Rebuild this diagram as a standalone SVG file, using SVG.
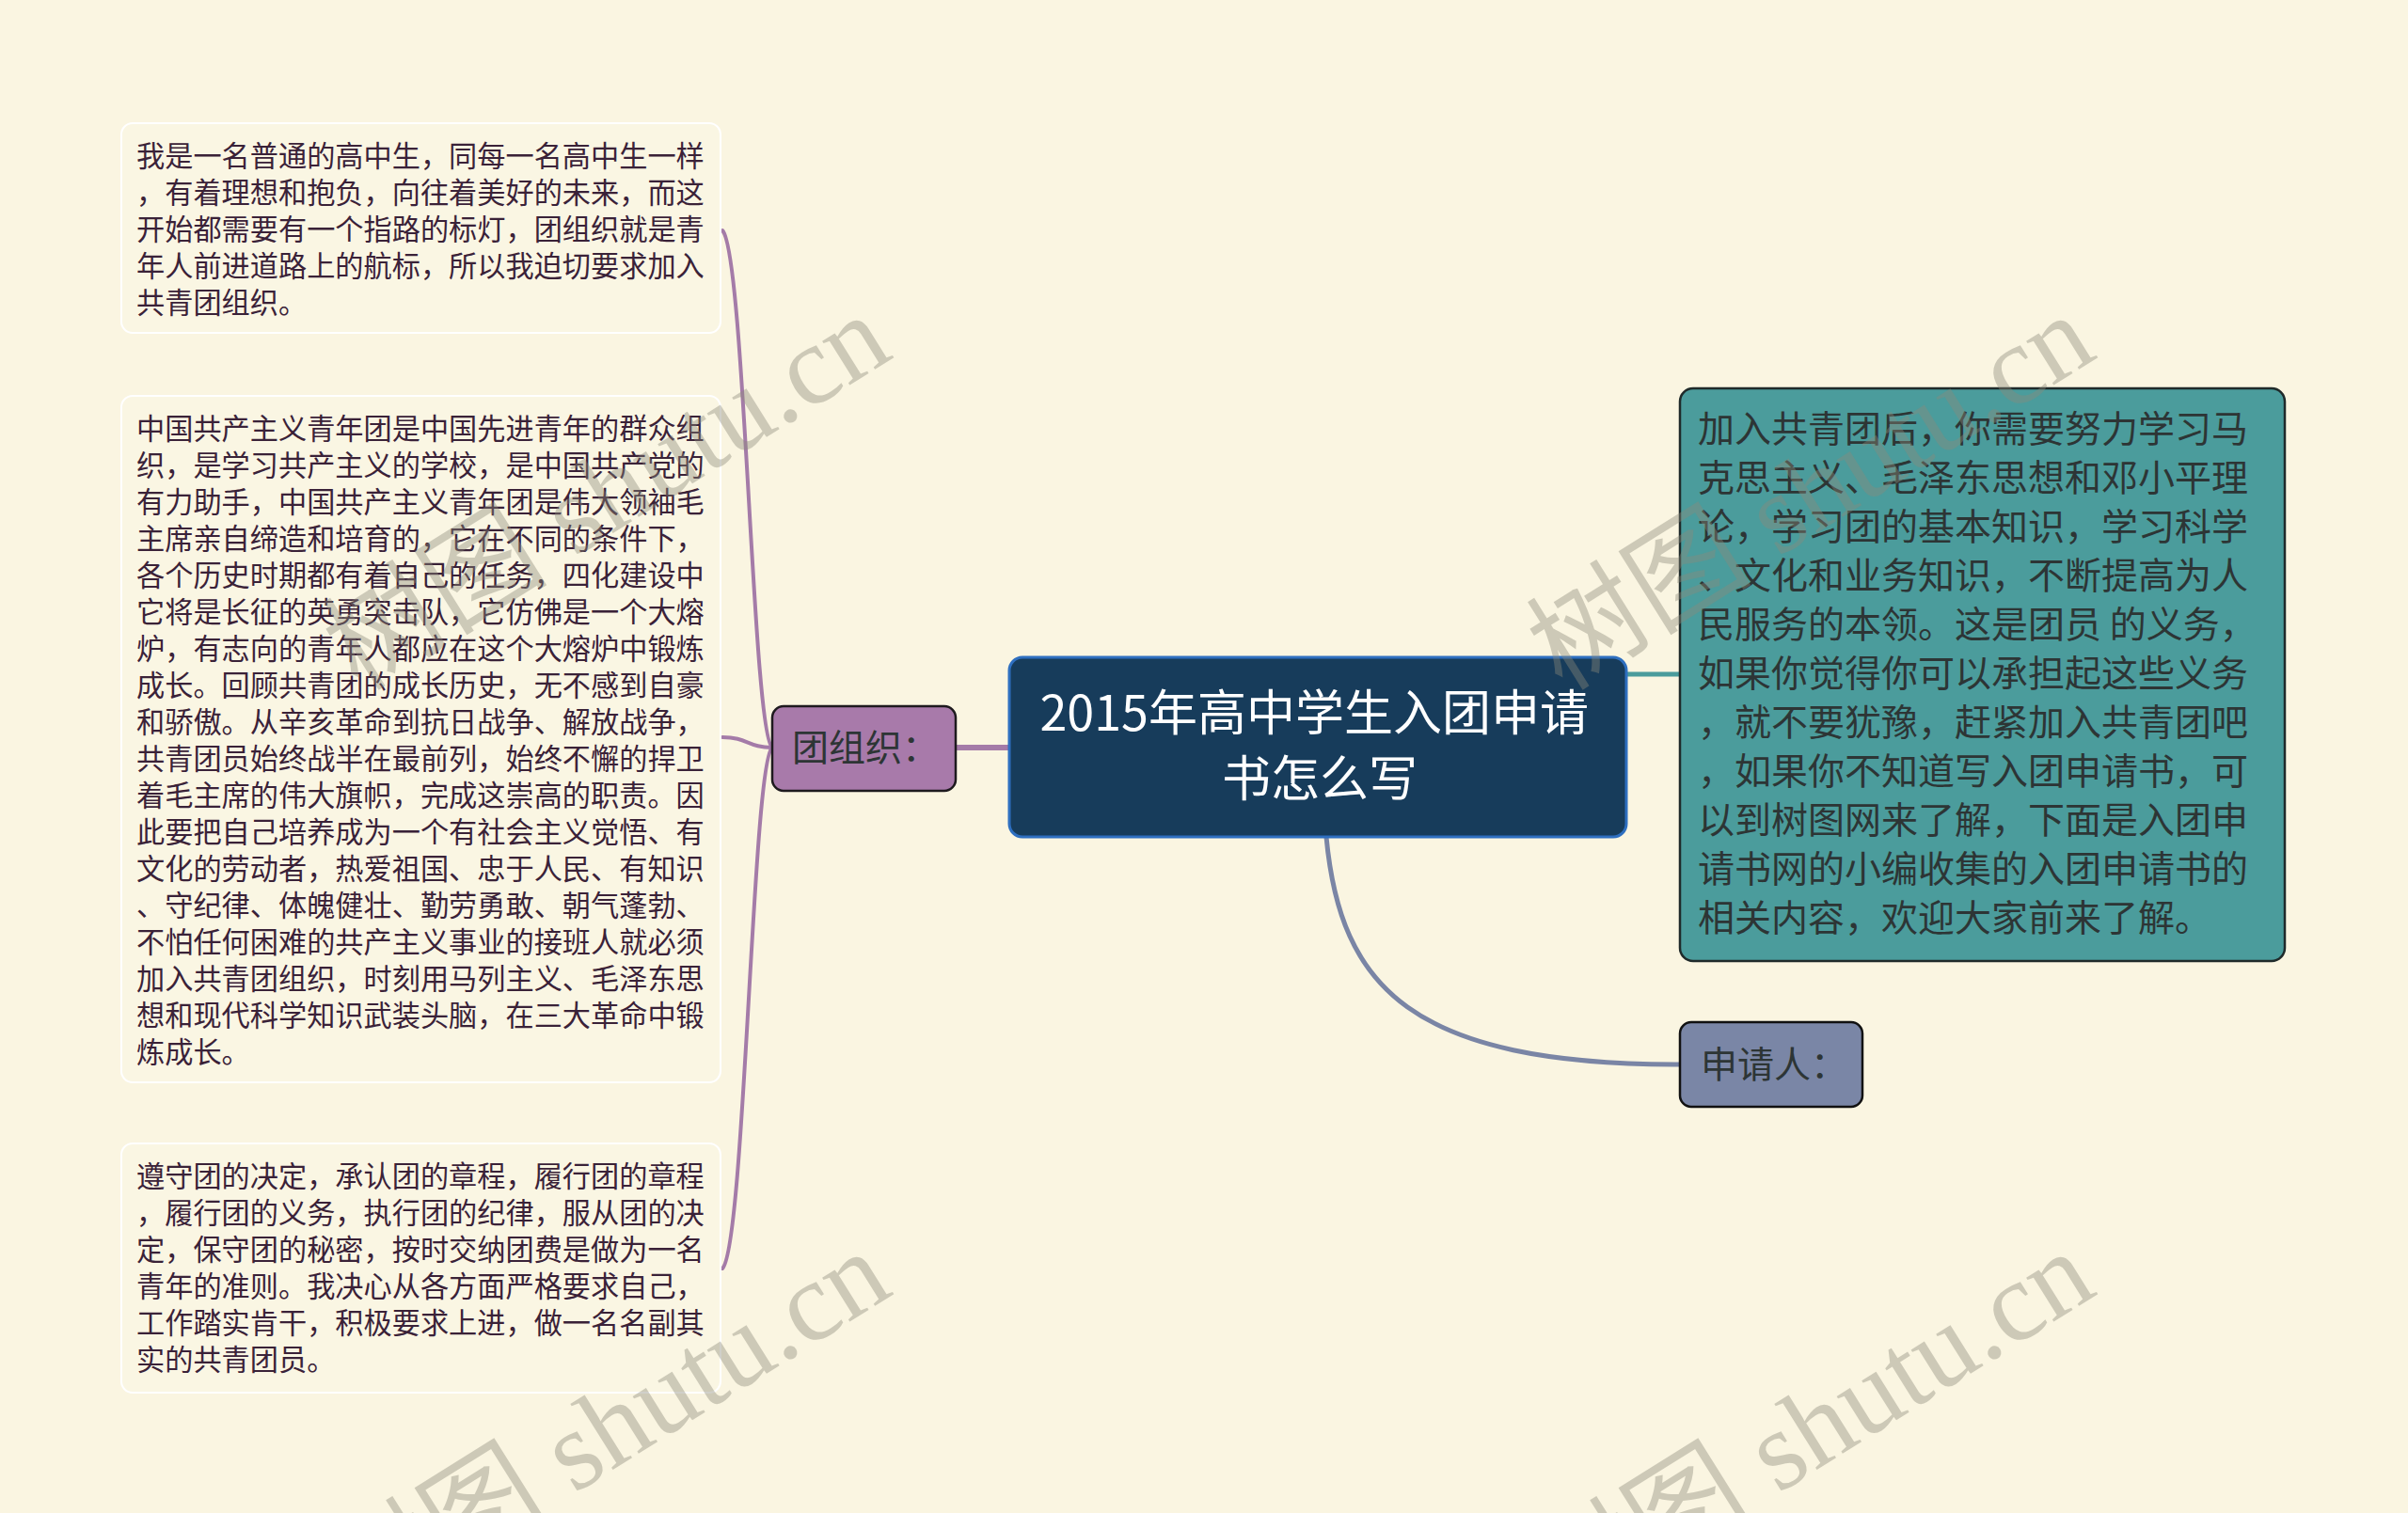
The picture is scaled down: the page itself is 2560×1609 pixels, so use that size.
<svg xmlns="http://www.w3.org/2000/svg" width="2560" height="1609" viewBox="0 0 2560 1609">
<style>
.bg{fill:#faf5e1}
.leaf{fill:#faf6e3;stroke:#ffffff;stroke-width:2}
.lt{font-family:"Noto Sans CJK SC","Noto Sans",sans-serif;font-size:30.2px;fill:#3a2238}
.rt{font-family:"Noto Sans CJK SC","Noto Sans",sans-serif;font-size:39px;fill:#2d3535}
.title{font-family:"Noto Sans CJK SC","Noto Sans",sans-serif;font-size:52px;fill:#ffffff;text-anchor:middle}
.wm{font-family:"Liberation Serif","Noto Sans CJK SC",serif;font-size:120px;fill:#8c8a7a;opacity:0.4}
.pc{fill:none;stroke:#a47ba8;stroke-linecap:round}
</style>
<rect class="bg" x="0" y="0" width="2560" height="1609"/>

<g id="connectors">
  <path class="pc" stroke-width="4" d="M821,795 C800,780 792,270 768,245"/>
  <path class="pc" stroke-width="4" d="M821,795 C795,795 795,784 768,784"/>
  <path class="pc" stroke-width="4" d="M821,795 C800,810 792,1325 768,1349"/>
  <path class="pc" stroke-width="6" d="M1016,795 L1073,795"/>
  <path fill="none" stroke="#4b9c9c" stroke-width="5" d="M1729,717 L1786,717"/>
  <path fill="none" stroke="#7a85a5" stroke-width="5" d="M1410,890 C1425,1050 1500,1132 1786,1132"/>
</g>

<g id="leaf1">
  <rect class="leaf" x="129" y="131" width="637" height="223" rx="12"/>
  <text class="lt">
    <tspan x="145" y="177">我是一名普通的高中生，同每一名高中生一样</tspan>
    <tspan x="145" y="216">，有着理想和抱负，向往着美好的未来，而这</tspan>
    <tspan x="145" y="255">开始都需要有一个指路的标灯，团组织就是青</tspan>
    <tspan x="145" y="294">年人前进道路上的航标，所以我迫切要求加入</tspan>
    <tspan x="145" y="333">共青团组织。</tspan>
  </text>
</g>

<g id="leaf2">
  <rect class="leaf" x="129" y="421" width="637" height="730" rx="12"/>
  <text class="lt">
    <tspan x="145" y="467">中国共产主义青年团是中国先进青年的群众组</tspan>
    <tspan x="145" y="506">织，是学习共产主义的学校，是中国共产党的</tspan>
    <tspan x="145" y="545">有力助手，中国共产主义青年团是伟大领袖毛</tspan>
    <tspan x="145" y="584">主席亲自缔造和培育的，它在不同的条件下，</tspan>
    <tspan x="145" y="623">各个历史时期都有着自己的任务，四化建设中</tspan>
    <tspan x="145" y="662">它将是长征的英勇突击队，它仿佛是一个大熔</tspan>
    <tspan x="145" y="701">炉，有志向的青年人都应在这个大熔炉中锻炼</tspan>
    <tspan x="145" y="740">成长。回顾共青团的成长历史，无不感到自豪</tspan>
    <tspan x="145" y="779">和骄傲。从辛亥革命到抗日战争、解放战争，</tspan>
    <tspan x="145" y="818">共青团员始终战半在最前列，始终不懈的捍卫</tspan>
    <tspan x="145" y="857">着毛主席的伟大旗帜，完成这崇高的职责。因</tspan>
    <tspan x="145" y="896">此要把自己培养成为一个有社会主义觉悟、有</tspan>
    <tspan x="145" y="935">文化的劳动者，热爱祖国、忠于人民、有知识</tspan>
    <tspan x="145" y="974">、守纪律、体魄健壮、勤劳勇敢、朝气蓬勃、</tspan>
    <tspan x="145" y="1013">不怕任何困难的共产主义事业的接班人就必须</tspan>
    <tspan x="145" y="1052">加入共青团组织，时刻用马列主义、毛泽东思</tspan>
    <tspan x="145" y="1091">想和现代科学知识武装头脑，在三大革命中锻</tspan>
    <tspan x="145" y="1130">炼成长。</tspan>
  </text>
</g>

<g id="leaf3">
  <rect class="leaf" x="129" y="1216" width="637" height="265" rx="12"/>
  <text class="lt">
    <tspan x="145" y="1262">遵守团的决定，承认团的章程，履行团的章程</tspan>
    <tspan x="145" y="1301">，履行团的义务，执行团的纪律，服从团的决</tspan>
    <tspan x="145" y="1340">定，保守团的秘密，按时交纳团费是做为一名</tspan>
    <tspan x="145" y="1379">青年的准则。我决心从各方面严格要求自己，</tspan>
    <tspan x="145" y="1418">工作踏实肯干，积极要求上进，做一名名副其</tspan>
    <tspan x="145" y="1457">实的共青团员。</tspan>
  </text>
</g>

<g id="node-tuanzuzhi">
  <rect x="821" y="751" width="195" height="90" rx="12" fill="#a87aaa" stroke="#1e1a1e" stroke-width="2.5"/>
  <text class="rt" x="842" y="809" fill="#333333">团组织：</text>
</g>

<g id="node-center">
  <rect x="1073" y="699" width="656" height="191" rx="14" fill="#173c5b" stroke="#2e6fc0" stroke-width="3"/>
  <text class="title">
    <tspan x="1403" y="777">2015年高中学生入团申请</tspan>
    <tspan x="1403" y="847">书怎么写</tspan>
  </text>
</g>

<g id="node-right">
  <rect x="1786" y="413" width="643" height="609" rx="14" fill="#4b9c9c" stroke="#1f2a2a" stroke-width="2.5"/>
  <text class="rt">
    <tspan x="1805" y="470">加入共青团后，你需要努力学习马</tspan>
    <tspan x="1805" y="522">克思主义、毛泽东思想和邓小平理</tspan>
    <tspan x="1805" y="574">论，学习团的基本知识，学习科学</tspan>
    <tspan x="1805" y="626">、文化和业务知识，不断提高为人</tspan>
    <tspan x="1805" y="678">民服务的本领。这是团员 的义务，</tspan>
    <tspan x="1805" y="730">如果你觉得你可以承担起这些义务</tspan>
    <tspan x="1805" y="782">，就不要犹豫，赶紧加入共青团吧</tspan>
    <tspan x="1805" y="834">，如果你不知道写入团申请书，可</tspan>
    <tspan x="1805" y="886">以到树图网来了解，下面是入团申</tspan>
    <tspan x="1805" y="938">请书网的小编收集的入团申请书的</tspan>
    <tspan x="1805" y="990">相关内容，欢迎大家前来了解。</tspan>
  </text>
</g>

<g id="node-shenqingren">
  <rect x="1786" y="1087" width="194" height="90" rx="12" fill="#7a86a6" stroke="#111111" stroke-width="2.5"/>
  <text class="rt" x="1808" y="1146" fill="#2d2d2d">申请人：</text>
</g>

<g id="watermarks">
  <text class="wm" transform="translate(381,736) rotate(-32)">树图 shutu.cn</text>
  <text class="wm" transform="translate(1661,736) rotate(-32)">树图 shutu.cn</text>
  <text class="wm" transform="translate(381,1732) rotate(-32)">树图 shutu.cn</text>
  <text class="wm" transform="translate(1661,1732) rotate(-32)">树图 shutu.cn</text>
</g>
</svg>
